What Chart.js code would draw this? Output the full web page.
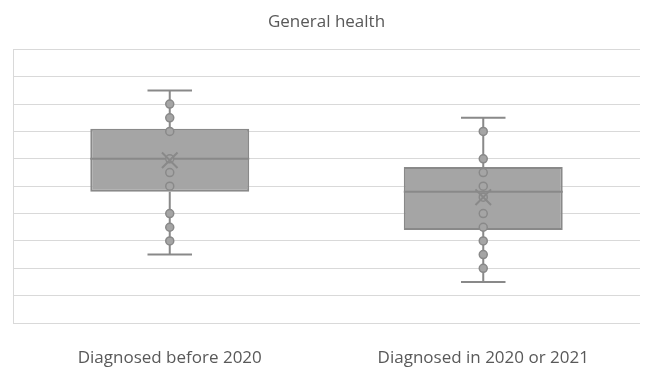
<!DOCTYPE html>
<html>
<head>
<meta charset="utf-8">
<script src="https://cdn.jsdelivr.net/npm/chart.js@4.4.1/dist/chart.umd.min.js"></script>
<style>
  html, body { margin: 0; padding: 0; background: #fff; overflow: hidden; }
  canvas { display: block; }
</style>
</head>
<body>
<canvas id="chart" width="650" height="371"></canvas>
<script>
// Categories and box plot stats (0-100 scale)
const categories = ['Diagnosed before 2020', 'Diagnosed in 2020 or 2021'];
const minVals = [25, 15];
const q1Vals = [48, 34];
const medianVals = [60, 48];
const q3Vals = [71, 57];
const maxVals = [85, 75];
const meanVals = [59.5, 46];

// Inner points per category
const pointsBefore = [80, 75, 70, 60, 55, 50, 40, 35, 30];
const pointsAfter = [70, 60, 55, 50, 46, 40, 35, 30, 25, 20];

const boxFill = '#a5a5a5';
const lineColor = '#898989';
const textColor = '#595959';

// Whiskers + median drawn through the scales, right after the boxes
const boxExtras = {
    id: 'boxExtras',
    afterDatasetDraw(chart, args) {
        if (args.index !== 0) return;
        const ctx = chart.ctx;
        const y = chart.scales.y;
        const bars = chart.getDatasetMeta(0).data;
        ctx.save();
        ctx.strokeStyle = lineColor;
        ctx.lineWidth = 2;
        bars.forEach((bar, i) => {
            const x = bar.x;
            const half = bar.width / 2;
            const cap = bar.width * 0.14;
            ctx.beginPath();
            // upper whisker
            ctx.moveTo(x, y.getPixelForValue(q3Vals[i]));
            ctx.lineTo(x, y.getPixelForValue(maxVals[i]));
            ctx.moveTo(x - cap, y.getPixelForValue(maxVals[i]));
            ctx.lineTo(x + cap, y.getPixelForValue(maxVals[i]));
            // lower whisker
            ctx.moveTo(x, y.getPixelForValue(q1Vals[i]));
            ctx.lineTo(x, y.getPixelForValue(minVals[i]));
            ctx.moveTo(x - cap, y.getPixelForValue(minVals[i]));
            ctx.lineTo(x + cap, y.getPixelForValue(minVals[i]));
            // median
            ctx.moveTo(x - half, y.getPixelForValue(medianVals[i]));
            ctx.lineTo(x + half, y.getPixelForValue(medianVals[i]));
            ctx.stroke();
        });
        ctx.restore();
    }
};

const pointData = pointsBefore.map(v => ({ x: categories[0], y: v }))
    .concat(pointsAfter.map(v => ({ x: categories[1], y: v })));
const meanData = meanVals.map((v, i) => ({ x: categories[i], y: v }));

new Chart(document.getElementById('chart'), {
    type: 'bar',
    data: {
        labels: categories,
        datasets: [
            {
                type: 'bar',
                data: categories.map((c, i) => [q1Vals[i], q3Vals[i]]),
                backgroundColor: boxFill,
                borderColor: lineColor,
                borderWidth: 2,
                borderSkipped: false,
                barPercentage: 0.507,
                categoryPercentage: 1,
                order: 3
            },
            {
                type: 'line',
                data: pointData,
                showLine: false,
                pointRadius: 4,
                pointBackgroundColor: boxFill,
                pointBorderColor: lineColor,
                pointBorderWidth: 1.5,
                order: 1
            },
            {
                type: 'line',
                data: meanData,
                showLine: false,
                pointStyle: 'crossRot',
                pointRadius: 11,
                pointBorderColor: lineColor,
                pointBorderWidth: 2,
                order: 0
            }
        ]
    },
    options: {
        responsive: false,
        animation: false,
        layout: { autoPadding: false, padding: { left: 13, right: 10, top: 0, bottom: 0 } },
        plugins: {
            legend: { display: false },
            tooltip: { enabled: false },
            title: {
                display: true,
                text: 'General health',
                color: textColor,
                font: { family: 'Open Sans', size: 17, weight: 'normal' },
                padding: { top: 12, bottom: 17 }
            }
        },
        scales: {
            x: {
                grid: { display: false },
                border: { display: false },
                afterFit(scale) { scale.height = 48; },
                ticks: {
                    color: textColor,
                    padding: 17,
                    maxRotation: 0,
                    font: { family: 'Open Sans', size: 17 }
                }
            },
            y: {
                min: 0,
                max: 100,
                ticks: { display: false, stepSize: 10 },
                grid: { color: '#d9d9d9', lineWidth: 1, drawTicks: false },
                border: { display: true, color: '#d9d9d9', width: 1 }
            }
        }
    },
    plugins: [boxExtras]
});
</script>
</body>
</html>
